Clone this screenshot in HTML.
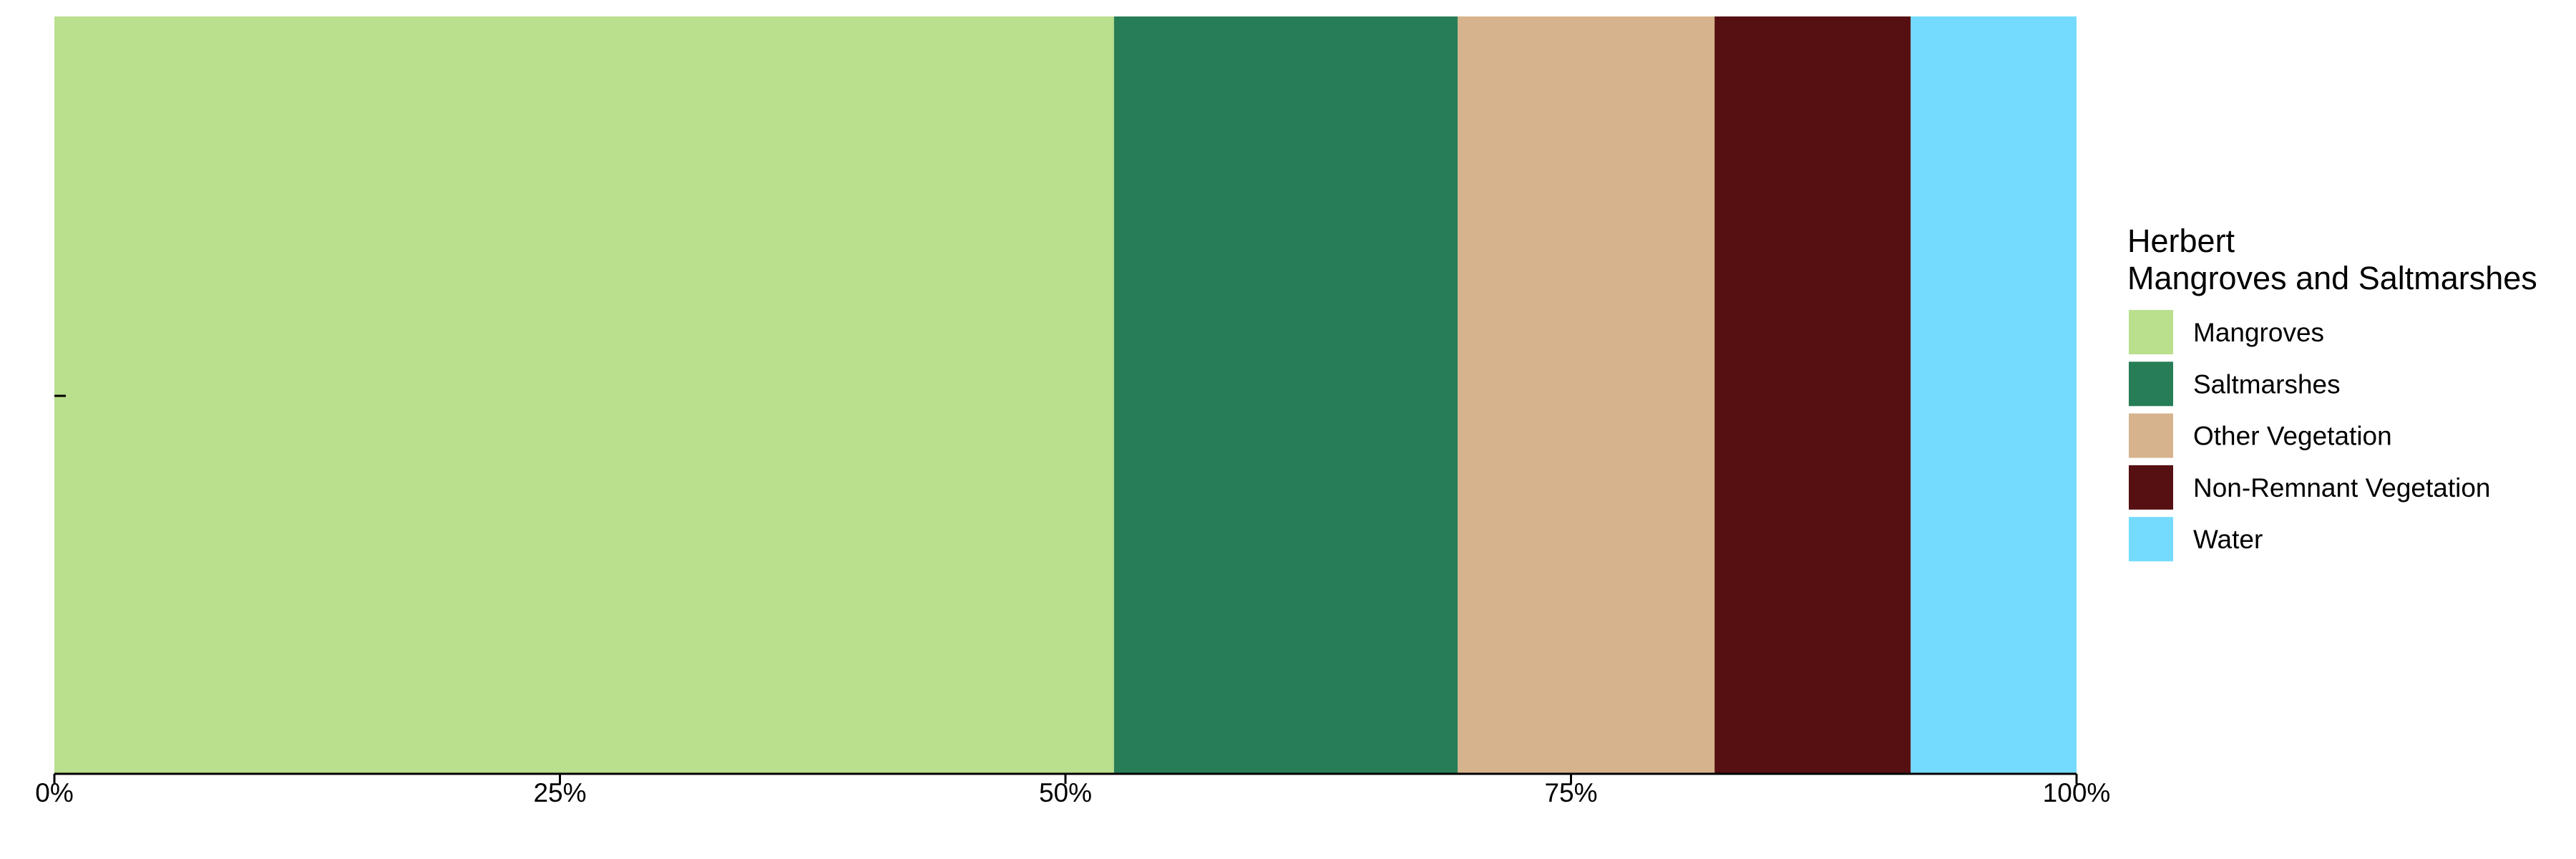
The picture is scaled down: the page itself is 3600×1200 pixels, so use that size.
<!DOCTYPE html>
<html><head><meta charset="utf-8"><style>
html,body{margin:0;padding:0;background:#fff;}
svg{display:block;font-family:"Liberation Sans",Arial,sans-serif;}
</style></head><body>
<svg id="chart" width="3600" height="1200" viewBox="0 0 3600 1200">
<g id="bars"></g>
<g id="axis"></g>
<g id="legend">
<text x="2973" y="352" font-size="45" fill="#000">Herbert</text>
<text x="2973" y="404" font-size="45" fill="#000">Mangroves and Saltmarshes</text>
</g>
</svg>
<script>
const categories = ["Mangroves","Saltmarshes","Other Vegetation","Non-Remnant Vegetation","Water"];
const values = [0.524, 0.170, 0.127, 0.097, 0.082];
const colors = ["#badf8d","#277e56","#d6b38c","#561012","#74dbff"];
const tickValues = [0, 0.25, 0.5, 0.75, 1];
const tickLabels = ["0%","25%","50%","75%","100%"];

const NS="http://www.w3.org/2000/svg";
const x0=76, x1=2902, yTop=23, yBot=1081;
const total = values.reduce((a,b)=>a+b,0);
const xScale = v => x0 + (v/total)*(x1-x0);
const tickScale = v => x0 + v*(x1-x0);
function mk(tag, attrs){const e=document.createElementNS(NS,tag);for(const k in attrs)e.setAttribute(k,attrs[k]);return e;}

const bars=document.getElementById('bars');
let cum=0;
values.forEach((v,i)=>{
  const r=mk('rect',{x:xScale(cum),y:yTop,width:xScale(cum+v)-xScale(cum),height:yBot-yTop,fill:colors[i]});
  
  
  bars.appendChild(r);
  cum+=v;
});

const axis=document.getElementById('axis');
const line=mk('line',{x1:x0,x2:x1,y1:yBot,y2:yBot,stroke:'#000','stroke-width':3});


axis.appendChild(line);
const yt=mk('line',{x1:x0,x2:x0+16,y1:553,y2:553,stroke:'#000','stroke-width':3});


axis.appendChild(yt);
tickValues.forEach((t,i)=>{
  const x=tickScale(t);
  const tk=mk('line',{x1:x,x2:x,y1:yBot,y2:yBot+14,stroke:'#000','stroke-width':3});
  
  
  axis.appendChild(tk);
  const tx=mk('text',{x:x,y:1120,'font-size':37,'text-anchor':'middle',fill:'#000'});
  tx.textContent=tickLabels[i];
  
  
  axis.appendChild(tx);
});

const legend=document.getElementById('legend');
categories.forEach((c,i)=>{
  const y=432+i*72.3;
  const g=mk('g',{});
  
  
  const r=mk('rect',{x:2974,y:y,width:64,height:64,fill:colors[i],stroke:'#fff','stroke-width':2});
  
  
  const t=mk('text',{x:3065,y:y+45,'font-size':37,fill:'#000'});
  t.textContent=c;
  
  
  g.appendChild(r);g.appendChild(t);legend.appendChild(g);
});
</script>
</body></html>
